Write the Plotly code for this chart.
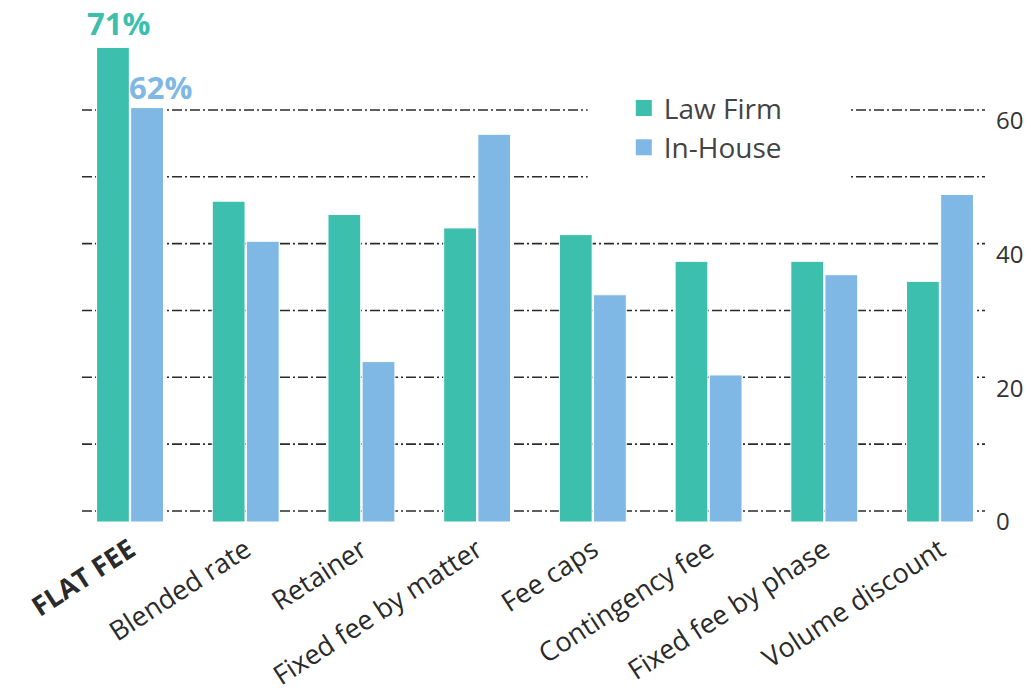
import plotly.graph_objects as go

categories = ["FLAT FEE", "Blended rate", "Retainer", "Fixed fee by matter",
              "Fee caps", "Contingency fee", "Fixed fee by phase", "Volume discount"]
tick_labels = ["<b>FLAT FEE</b>", "Blended rate", "Retainer", "Fixed fee by matter",
               "Fee caps", "Contingency fee", "Fixed fee by phase", "Volume discount"]
law_firm = [71, 48, 46, 44, 43, 39, 39, 36]
in_house = [62, 42, 24, 58, 34, 22, 37, 49]
y_ticks = [0, 20, 40, 60]
grid_levels = [0, 10, 20, 30, 40, 50, 60]
grid_offset = 1.65  # gridlines in the original sit slightly above tick positions

TEAL = "#3DBFAD"
BLUE = "#7FB8E4"
FONT = "'Open Sans', Lato, sans-serif"

fig = go.Figure()
fig.add_trace(go.Bar(x=categories, y=law_firm, name="Law Firm", marker_color=TEAL,
                     marker_line=dict(color="white", width=1), showlegend=False))
fig.add_trace(go.Bar(x=categories, y=in_house, name="In-House", marker_color=BLUE,
                     marker_line=dict(color="white", width=1), showlegend=False))
# legend entries
fig.add_trace(go.Scatter(x=[None], y=[None], mode="markers", name="Law Firm",
                         marker=dict(symbol="square", size=20, color=TEAL)))
fig.add_trace(go.Scatter(x=[None], y=[None], mode="markers", name="In-House",
                         marker=dict(symbol="square", size=20, color=BLUE)))

shapes = []
for g in grid_levels:
    shapes.append(dict(type="line", xref="paper", x0=0, x1=1, yref="y",
                       y0=g + grid_offset, y1=g + grid_offset, layer="below",
                       line=dict(color="#2b2b2b", width=1.6, dash="10px,3px,2px,3px")))
# white backing behind legend
shapes.append(dict(type="rect", xref="paper", yref="paper", x0=0.56, x1=0.85,
                   y0=0.655, y1=0.83, fillcolor="white", line=dict(width=0), layer="below"))

annotations = [
    dict(x=categories[0], y=law_firm[0], text="<b>71%</b>", showarrow=False,
         xshift=-12, yanchor="bottom", yshift=1,
         font=dict(family=FONT, size=31, color=TEAL)),
    dict(x=categories[0], y=in_house[0], text="<b>62%</b>", showarrow=False,
         xshift=30, yanchor="bottom", yshift=-2,
         font=dict(family=FONT, size=31, color=BLUE)),
]

fig.update_layout(
    width=1031, height=695,
    margin=dict(l=82, r=46, t=10, b=173, autoexpand=False),
    plot_bgcolor="white", paper_bgcolor="white",
    barmode="group", bargap=0.41, bargroupgap=0.04,
    font=dict(family=FONT, color="#333"),
    shapes=shapes, annotations=annotations,
    legend=dict(x=0.6, y=0.857, xanchor="left", yanchor="top",
                font=dict(family=FONT, size=28, color="#444"),
                bgcolor="rgba(0,0,0,0)", itemwidth=30, tracegroupgap=0),
    xaxis=dict(range=[-0.415, 7.389], tickmode="array", tickvals=categories,
               ticktext=tick_labels, tickangle=-33, showgrid=False, showline=False,
               ticks="", tickfont=dict(family=FONT, size=27, color="#2a2a2a"),
               ticklabelstandoff=6, zeroline=False, automargin=False),
    yaxis=dict(range=[0, 76.6], side="right", tickvals=y_ticks, showgrid=False,
               zeroline=False, showline=False, ticks="", ticklabelstandoff=10,
               tickfont=dict(family=FONT, size=24, color="#333"), automargin=False),
)

fig.write_html("out.html")
